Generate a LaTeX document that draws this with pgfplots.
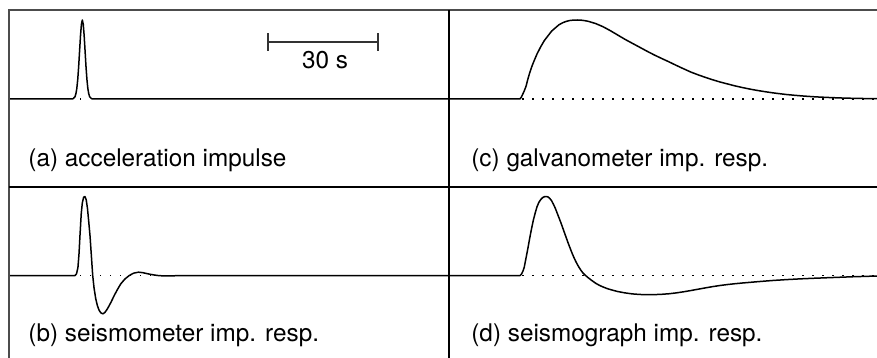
\documentclass[border=0pt]{standalone}
\usepackage{pgfplots}
\pgfplotsset{compat=1.18}
\usepackage{fontspec}
\setmainfont{TeX Gyre Heros}

% Impulse responses, time in seconds, amplitude normalised to the peak
\pgfplotstableread{
t v
0 0
17 0
17.5 0.004
18 0.029
18.25 0.066
18.5 0.135
18.75 0.249
19 0.411
19.25 0.607
19.5 0.801
19.75 0.946
20 1
20.25 0.946
20.5 0.801
20.75 0.607
21 0.411
21.25 0.249
21.5 0.135
21.75 0.066
22 0.029
22.5 0.004
23 0
120 0
}\impulse

\pgfplotstableread{
t v
0 0
18 0
18.4 0.02
18.8 0.10
19.1 0.28
19.35 0.50
19.7 0.78
20.0 0.92
20.35 0.99
20.7 1.0
21.05 0.96
21.4 0.85
21.75 0.68
22.1 0.50
22.45 0.26
22.83 0.0
23.2 -0.16
23.66 -0.295
24.1 -0.38
24.57 -0.44
25.1 -0.475
25.67 -0.485
26.2 -0.465
26.87 -0.42
27.8 -0.34
28.7 -0.253
29.6 -0.175
30.5 -0.105
31.6 -0.045
32.8 0.0
34.0 0.03
35.3 0.042
36.5 0.036
38.0 0.02
39.5 0.007
40.6 0.0
42.0 -0.005
44.0 -0.005
46.0 -0.002
48 0
120 0
}\seismometer

\pgfplotstableread{
t v
0 0
19.3 0
19.7 0.02
20 0.05
20.5 0.1
21 0.16
21.5 0.25
22 0.33
22.5 0.40
23 0.46
24 0.57
25 0.66
26 0.74
27 0.80
28 0.86
29 0.90
30 0.94
31 0.965
32 0.983
33 0.994
34 0.999
35 1.0
36 0.998
37 0.992
38 0.983
40 0.955
42 0.915
44 0.865
46 0.81
48 0.755
50 0.705
52 0.655
54 0.605
56 0.557
58 0.513
60 0.47
62 0.425
64 0.382
66 0.34
68 0.305
70 0.272
72 0.242
74 0.214
76 0.19
78 0.166
80 0.145
82 0.126
84 0.109
86 0.094
88 0.08
90 0.068
92 0.057
94 0.048
96 0.04
98 0.033
100 0.027
104 0.018
108 0.011
112 0.007
116 0.004
120 0.002
}\galvanometer

\pgfplotstableread{
t v
0 0
19.4 0
19.8 0.02
20.2 0.06
20.5 0.1
21 0.22
21.5 0.34
22 0.47
22.5 0.59
23 0.70
23.5 0.79
24 0.87
24.5 0.925
25 0.96
25.5 0.985
26 0.997
26.5 1.0
27 0.995
27.5 0.975
28 0.945
28.5 0.9
29 0.85
29.5 0.79
30 0.73
30.5 0.67
31 0.605
31.5 0.54
32 0.475
32.5 0.41
33 0.35
33.5 0.29
34 0.235
34.5 0.185
35 0.14
35.5 0.1
36 0.065
36.5 0.034
37 0.01
37.5 -0.01
38 -0.03
39 -0.065
40 -0.098
41 -0.124
42 -0.145
43 -0.163
44 -0.178
46 -0.203
48 -0.22
50 -0.233
52 -0.24
54 -0.243
56 -0.242
58 -0.238
60 -0.231
62 -0.22
64 -0.206
66 -0.19
68 -0.173
70 -0.156
72 -0.14
74 -0.126
76 -0.114
78 -0.104
80 -0.095
84 -0.079
88 -0.064
92 -0.052
96 -0.042
100 -0.034
105 -0.025
110 -0.016
115 -0.009
120 -0.004
}\seismograph

\pgfplotsset{
  panel/.style={
    hide axis, scale only axis, anchor=south west,
    xmin=0, ymax=1.1203,
    clip=true,
  },
  trace/.style={black, line width=0.75bp, line join=round},
  zeroline/.style={black, line width=0.6bp, dash pattern=on 0.6bp off 4.4bp},
}

\begin{document}
\begin{tikzpicture}[font=\fontsize{12.2}{14}\selectfont]
\useasboundingbox (0bp,0bp) rectangle (438.5bp,179bp);

% (a) acceleration impulse
\begin{axis}[panel, at={(4.5bp,85.5bp)}, width=220bp, height=88.25bp,
  xmax=120, ymin=-1.1139]
  \addplot[zeroline] coordinates {(19.4,0) (21,0)};
  \addplot[trace] table[x=t, y=v] {\impulse};
  % 30 s scale bar
  \addplot[black!80, line width=0.65bp] coordinates {(70.6,0.72) (100.6,0.72)};
  \addplot[black!80, line width=0.65bp] coordinates {(70.6,0.61) (70.6,0.83)};
  \addplot[black!80, line width=0.65bp] coordinates {(100.6,0.61) (100.6,0.83)};
  \node[anchor=base] at (axis cs:86.2,0.39) {30 s};
  \node[anchor=base west, inner sep=0pt] at (axis cs:5.2,-0.855) {(a) acceleration impulse};
\end{axis}

% (b) seismometer impulse response
\begin{axis}[panel, at={(4.5bp,0bp)}, width=220bp, height=85.5bp,
  xmax=120, ymin=-1.0443]
  \addplot[zeroline] coordinates {(19.4,0) (46,0)};
  \addplot[trace] table[x=t, y=v] {\seismometer};
  \node[anchor=base west, inner sep=0pt] at (axis cs:5.2,-0.84) {(b) seismometer imp. resp.};
\end{axis}

% (c) galvanometer impulse response
\begin{axis}[panel, at={(224.5bp,85.5bp)}, width=214bp, height=88.25bp,
  xmax=116.727, ymin=-1.1139]
  \addplot[zeroline] coordinates {(20,0) (120,0)};
  \addplot[trace] table[x=t, y=v] {\galvanometer};
  \node[anchor=base west, inner sep=0pt] at (axis cs:6.0,-0.855) {(c) galvanometer imp. resp.};
\end{axis}

% (d) seismograph impulse response
\begin{axis}[panel, at={(224.5bp,0bp)}, width=214bp, height=85.5bp,
  xmax=116.727, ymin=-1.0443]
  \addplot[zeroline] coordinates {(20,0) (120,0)};
  \addplot[trace] table[x=t, y=v] {\seismograph};
  \node[anchor=base west, inner sep=0pt] at (axis cs:6.0,-0.84) {(d) seismograph imp. resp.};
\end{axis}

% panel frame and dividers
\draw[black!70, line width=1bp] (4.5bp,0bp) -- (4.5bp,173.75bp) -- (438.5bp,173.75bp);
\draw[black, line width=0.65bp] (4.5bp,85.5bp) -- (438.5bp,85.5bp);
\draw[black, line width=0.65bp] (224.5bp,0bp) -- (224.5bp,173.75bp);
\end{tikzpicture}
\end{document}
